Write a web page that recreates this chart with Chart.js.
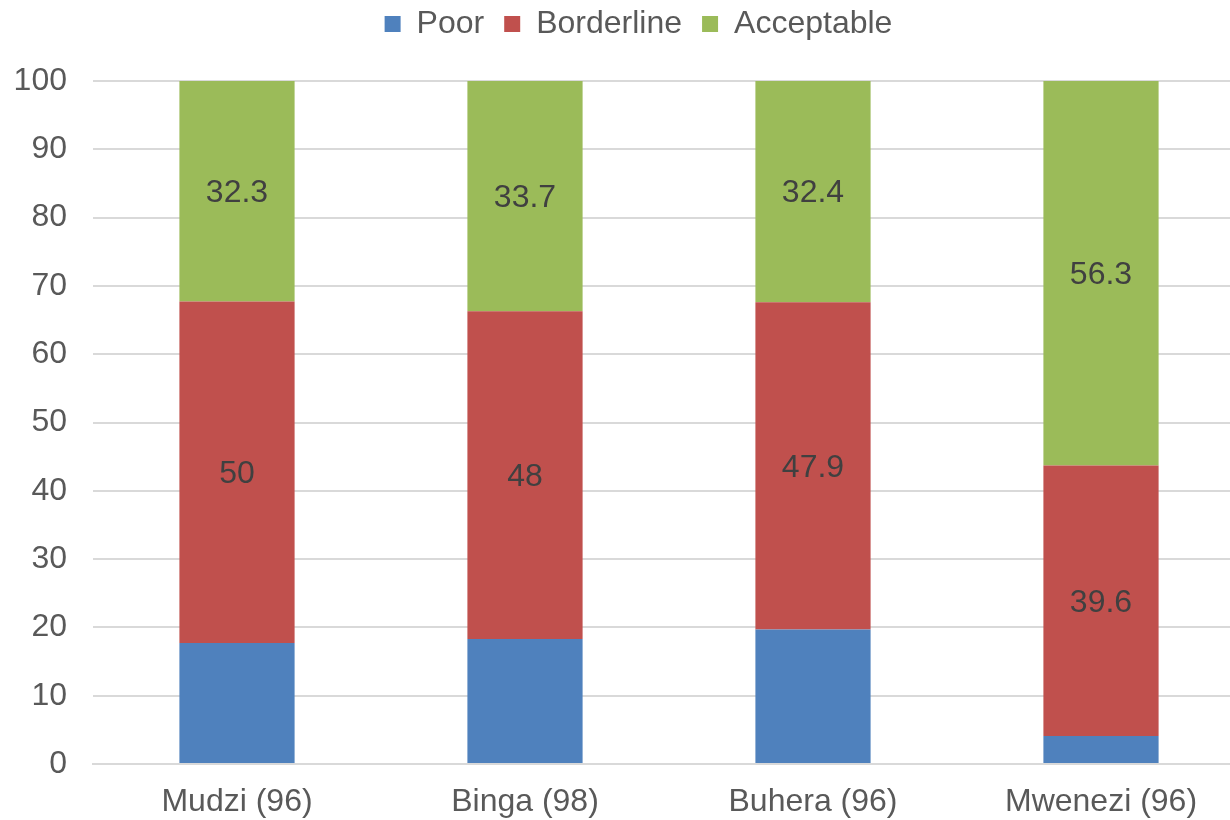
<!DOCTYPE html>
<html>
<head>
<meta charset="utf-8">
<script src="https://cdn.jsdelivr.net/npm/chart.js@4"></script>
<style>
  html, body { margin: 0; padding: 0; background: #fff; overflow: hidden; }
  #wrap { width: 1276px; height: 820px; }
</style>
</head>
<body>
<div id="wrap"><canvas id="c" width="1276" height="820"></canvas></div>
<script>
// Food consumption groups by district (% of households, sample size in brackets)
const districts = ['Mudzi (96)', 'Binga (98)', 'Buhera (96)', 'Mwenezi (96)'];
const poor = [17.7, 18.3, 19.7, 4.1];
const borderline = [50, 48, 47.9, 39.6];
const acceptable = [32.3, 33.7, 32.4, 56.3];
const yTicks = [0, 10, 20, 30, 40, 50, 60, 70, 80, 90, 100];

const FONT = "'Liberation Sans', Arial, sans-serif";
const GRID = '#d9d9d9';

// Writes each segment's value in its middle, for the series flagged showValues
const segmentValues = {
  id: 'segmentValues',
  afterDatasetsDraw(chart) {
    const ctx = chart.ctx;
    ctx.save();
    ctx.font = '32px ' + FONT;
    ctx.fillStyle = '#404040';
    ctx.textAlign = 'center';
    ctx.textBaseline = 'middle';
    chart.data.datasets.forEach((ds, i) => {
      if (!ds.showValues) return;
      chart.getDatasetMeta(i).data.forEach((bar, j) => {
        const p = bar.getProps(['x', 'y', 'base'], true);
        ctx.fillText(String(ds.data[j]), p.x, (p.y + p.base) / 2 + 2);
      });
    });
    ctx.restore();
  }
};

// Fixes the legend band height and centres the legend row over the whole canvas
const legendBand = {
  id: 'legendBand',
  beforeInit(chart) {
    const fit = chart.legend.fit;
    chart.legend.fit = function () {
      fit.call(this);
      this.height = 81;
    };
  },
  afterLayout(chart) {
    const lg = chart.legend;
    lg.top -= 12;
    lg.bottom -= 12;
    lg.left += 16;
    lg.right += 16;
  }
};

new Chart(document.getElementById('c'), {
  type: 'bar',
  data: {
    labels: districts,
    datasets: [
      { label: 'Poor', data: poor, backgroundColor: '#4F81BD' },
      { label: 'Borderline', data: borderline, backgroundColor: '#C0504D', showValues: true },
      { label: 'Acceptable', data: acceptable, backgroundColor: '#9BBB59', showValues: true }
    ].map(d => Object.assign(d, {
      borderWidth: 0,
      categoryPercentage: 1,
      barPercentage: 0.4
    }))
  },
  options: {
    responsive: false,
    animation: false,
    layout: { padding: { left: 0, right: 31, top: 0, bottom: 0 } },
    plugins: {
      legend: {
        position: 'top',
        labels: {
          color: '#595959',
          font: { family: FONT, size: 32 },
          boxWidth: 16,
          boxHeight: 16,
          padding: 20
        }
      },
      tooltip: { enabled: false }
    },
    scales: {
      x: {
        stacked: true,
        afterFit(scale) { scale.height = 56; },
        grid: { display: false, drawTicks: false },
        border: { display: true, color: GRID, width: 2 },
        ticks: { color: '#595959', font: { family: FONT, size: 32 }, padding: 19 }
      },
      y: {
        stacked: true,
        min: 0,
        max: 100,
        afterBuildTicks(scale) { scale.ticks = yTicks.map(v => ({ value: v })); },
        afterFit(scale) { scale.width = 93; },
        grid: { color: GRID, lineWidth: 2, drawTicks: false },
        border: { display: false },
        ticks: { color: '#595959', font: { family: FONT, size: 32 }, padding: 26 }
      }
    }
  },
  plugins: [segmentValues, legendBand]
});
</script>
</body>
</html>
